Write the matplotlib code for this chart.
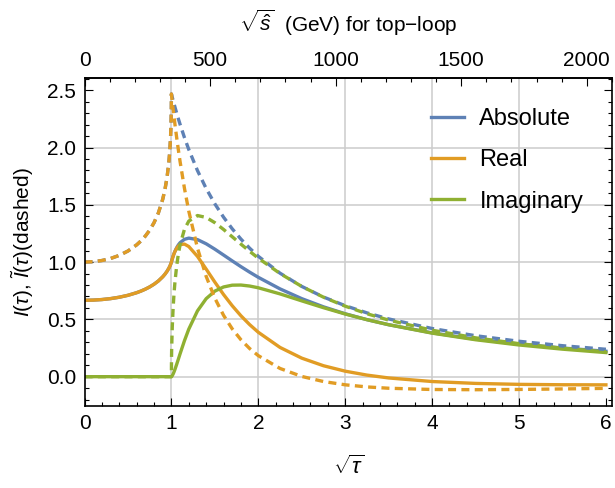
import matplotlib.pyplot as plt
from matplotlib.ticker import MultipleLocator, FixedLocator

plt.rcParams['font.family'] = ['Liberation Sans', 'DejaVu Sans']
plt.rcParams['mathtext.fontset'] = 'custom'
plt.rcParams['mathtext.rm'] = 'Liberation Sans'
plt.rcParams['mathtext.it'] = 'Liberation Sans:italic'

# sqrt(tau) sample points
sqrt_tau = [0, 0.1, 0.2, 0.3, 0.4, 0.5, 0.6, 0.65, 0.7, 0.75, 0.8, 0.85, 0.9, 0.925,
            0.95, 0.97, 0.98, 0.99, 0.995, 0.999, 1.0, 1.001, 1.003, 1.01, 1.02, 1.03,
            1.04, 1.06, 1.08, 1.1, 1.15, 1.2, 1.3, 1.4, 1.5, 1.6, 1.7, 1.8, 1.9, 2.0,
            2.25, 2.5, 2.75, 3.0, 3.25, 3.5, 4.0, 4.5, 5.0, 5.5, 6.0]

# I(tau), solid
re_I = [0.6667, 0.6682, 0.6730, 0.6812, 0.6933, 0.7101, 0.7329, 0.7471, 0.7637, 0.7833,
        0.8068, 0.8353, 0.8715, 0.8937, 0.9200, 0.9456, 0.9606, 0.9780, 0.9881, 0.9973,
        1.0, 1.0029, 1.0086, 1.0276, 1.0518, 1.0729, 1.0911, 1.1199, 1.1398, 1.1521,
        1.1571, 1.1358, 1.0496, 0.9389, 0.8250, 0.7170, 0.6189, 0.5315, 0.4546, 0.3874,
        0.2551, 0.1617, 0.0954, 0.0479, 0.0137, -0.0112, -0.0424, -0.0588, -0.0671,
        -0.0706, -0.0714]
im_I = [0, 0, 0, 0, 0, 0, 0, 0, 0, 0, 0, 0, 0, 0, 0, 0, 0, 0, 0, 0,
        0, 0.0003, 0.0014, 0.0086, 0.0234, 0.0415, 0.0618, 0.1060, 0.1527, 0.1999,
        0.3134, 0.4149, 0.5741, 0.6807, 0.7466, 0.7829, 0.7985, 0.7997, 0.7910, 0.7758,
        0.7224, 0.6616, 0.6020, 0.5469, 0.4974, 0.4533, 0.3798, 0.3222, 0.2766,
        0.2400, 0.2102]
abs_I = [0.6667, 0.6682, 0.6730, 0.6812, 0.6933, 0.7101, 0.7329, 0.7471, 0.7637, 0.7833,
         0.8068, 0.8353, 0.8715, 0.8937, 0.9200, 0.9456, 0.9606, 0.9780, 0.9881, 0.9973,
         1.0, 1.0029, 1.0086, 1.0276, 1.0520, 1.0737, 1.0929, 1.1249, 1.1500, 1.1693,
         1.1988, 1.2092, 1.1963, 1.1597, 1.1126, 1.0617, 1.0103, 0.9602, 0.9123, 0.8671,
         0.7661, 0.6810, 0.6095, 0.5490, 0.4976, 0.4535, 0.3822, 0.3275, 0.2846,
         0.2501, 0.2220]

# I~(tau), dashed
re_It = [1.0, 1.0033, 1.0137, 1.0315, 1.0584, 1.0966, 1.1503, 1.1850, 1.2270, 1.2786,
         1.3436, 1.4287, 1.5480, 1.6302, 1.7403, 1.8666, 1.9556, 2.0842, 2.1849, 2.3336,
         2.4674, 2.4605, 2.4467, 2.3992, 2.3333, 2.2695, 2.2078, 2.0902, 1.9801, 1.8766,
         1.6443, 1.4445, 1.1214, 0.8754, 0.6850, 0.5356, 0.4172, 0.3223, 0.2457, 0.1833,
         0.0717, 0.0020, -0.0425, -0.0711, -0.0895, -0.1010, -0.1119, -0.1138, -0.1115,
         -0.1072, -0.1020]
im_It = [0, 0, 0, 0, 0, 0, 0, 0, 0, 0, 0, 0, 0, 0, 0, 0, 0, 0, 0, 0,
         0, 0.1402, 0.2418, 0.4352, 0.6029, 0.7236, 0.8188, 0.9638, 1.0701, 1.1517,
         1.2854, 1.3578, 1.4062, 1.3897, 1.3438, 1.2848, 1.2210, 1.1567, 1.0941, 1.0343,
         0.9002, 0.7876, 0.6937, 0.6153, 0.5494, 0.4936, 0.4052, 0.3389, 0.2881,
         0.2482, 0.2162]
abs_It = [1.0, 1.0033, 1.0137, 1.0315, 1.0584, 1.0966, 1.1503, 1.1850, 1.2270, 1.2786,
          1.3436, 1.4287, 1.5480, 1.6302, 1.7403, 1.8666, 1.9556, 2.0842, 2.1849, 2.3336,
          2.4674, 2.4645, 2.4586, 2.4384, 2.4099, 2.3820, 2.3547, 2.3017, 2.2507, 2.2018,
          2.0871, 1.9825, 1.7986, 1.6424, 1.5083, 1.3920, 1.2903, 1.2008, 1.1213, 1.0504,
          0.9030, 0.7876, 0.6950, 0.6194, 0.5567, 0.5039, 0.4203, 0.3575, 0.3089,
          0.2703, 0.2391]

top_ticks = [0, 500, 1000, 1500, 2000]
two_mt = 346.0  # GeV, sqrt(s) = 2 m_t sqrt(tau)

blue = '#5E81B5'
orange = '#E19C24'
green = '#8FB032'

fig = plt.figure(figsize=(6.15, 4.88), dpi=100)
ax = fig.add_axes([84.5 / 615, 1 - 406 / 488, (612 - 84.5) / 615, (406 - 78.3) / 488])

lw = 2.4
dash = (0, (2.4, 1.6))
l1, = ax.plot(sqrt_tau, abs_I, color=blue, lw=lw, label='Absolute')
l2, = ax.plot(sqrt_tau, re_I, color=orange, lw=lw, label='Real')
l3, = ax.plot(sqrt_tau, im_I, color=green, lw=lw, label='Imaginary')
ax.plot(sqrt_tau, abs_It, color=blue, lw=lw, ls=dash)
ax.plot(sqrt_tau, re_It, color=orange, lw=lw, ls=dash)
ax.plot(sqrt_tau, im_It, color=green, lw=lw, ls=dash)

ax.set_xlim(0, 6.07)
ax.set_ylim(-0.256, 2.604)

for gx in [1, 2, 3, 4, 5]:
    ax.axvline(gx, color='#cccccc', lw=1.1, zorder=0)
for gy in [0, 0.5, 1.0, 1.5, 2.0]:
    ax.axhline(gy, color='#cccccc', lw=1.1, zorder=0)

ax.xaxis.set_major_locator(MultipleLocator(1))
ax.xaxis.set_minor_locator(MultipleLocator(0.2))
ax.yaxis.set_major_locator(MultipleLocator(0.5))
ax.yaxis.set_minor_locator(MultipleLocator(0.1))
ax.yaxis.set_major_formatter(lambda v, p: f'{v:.1f}')
ax.tick_params(which='both', direction='in', right=True, top=False, width=0.8,
               labelsize=15, pad=6)
ax.tick_params(which='major', length=5.5)
ax.tick_params(which='minor', length=3)
for sp in ax.spines.values():
    sp.set_linewidth(1.2)

sec = ax.secondary_xaxis('top', functions=(lambda x: x * two_mt, lambda s: s / two_mt))
sec.xaxis.set_major_locator(FixedLocator(top_ticks))
sec.xaxis.set_minor_locator(FixedLocator(list(range(0, 2101, 100))))
sec.tick_params(which='both', direction='in', width=0.8, labelsize=15, pad=6)
sec.tick_params(which='major', length=5.5)
sec.tick_params(which='minor', length=3)
sec.spines['top'].set_linewidth(1.2)
sec.set_xlabel(r'$\sqrt{\hat{s}}$  (GeV) for top' + '\u2212' + 'loop', fontsize=15, labelpad=14)

ax.set_xlabel(r'$\sqrt{\tau}$', fontsize=16, labelpad=16)
ax.set_ylabel(r'$I(\tau)$, $\tilde{I}(\tau)$(dashed)', fontsize=15, labelpad=8)

ax.legend(handles=[l1, l2, l3], loc='upper left', bbox_to_anchor=(431 / 615, 1 - 108 / 488),
          bbox_transform=fig.transFigure, frameon=False, fontsize=17, handlelength=1.4,
          handletextpad=0.65, labelspacing=0.82, borderpad=0, borderaxespad=0)

fig.savefig('out.png', dpi=100)
